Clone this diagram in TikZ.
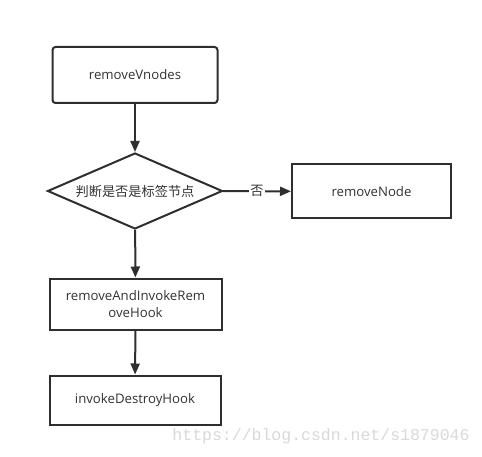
\documentclass[tikz,border=0pt]{standalone}
\usepackage{fontspec}
\setmainfont{Open Sans}
\newfontfamily\cjk{Noto Sans CJK SC}
\newfontfamily\wmfont{Liberation Mono}
\usepackage{tikz}
\usetikzlibrary{shapes.geometric,arrows.meta}

\definecolor{flowline}{HTML}{2E2E2E}
\definecolor{flowtext}{HTML}{333333}
\definecolor{wmgray}{HTML}{D9D9D9}

\tikzset{
  stepbox/.style={draw=flowline, line width=2pt, text=flowtext,
                  font=\fontsize{13.2}{17}\selectfont, inner sep=2pt, align=center},
  decide/.style={diamond, aspect=2.3, draw=flowline, line width=2pt, text=flowtext,
                 inner sep=0pt, minimum width=175pt, minimum height=76pt,
                 font=\cjk\fontsize{13.2}{15}\selectfont},
  flow/.style={draw=flowline, line width=2pt,
               -{Triangle[length=11pt,width=9pt]}}
}

\begin{document}
\begin{tikzpicture}[x=1pt,y=-1pt]
\fill[white] (0,0) rectangle (482,457);
\useasboundingbox (0,0) rectangle (482,457);

% nodes
\node[stepbox, rounded corners=3pt, minimum width=165pt, minimum height=56pt] (rv) at (135,75) {removeVnodes};
\node[decide] (dec) at (135,191) {判断是否是标签节点};
\node[stepbox, minimum width=159pt, minimum height=54pt] (rn) at (371.5,191.5) {removeNode};
\node[stepbox, minimum width=172pt, minimum height=51pt] (rai) at (135.5,304) {removeAndInvokeRem\\oveHook};
\node[stepbox, minimum width=171pt, minimum height=49pt] (idh) at (135,400) {invokeDestroyHook};

% connectors
\draw[flow] (rv) -- (dec);
\draw[flow] (dec) -- node[fill=white, inner sep=1.5pt, text=flowtext,
      font=\cjk\fontsize{13.2}{15}\selectfont] {否} (rn);
\draw[flow] (dec) -- (rai);
\draw[flow] (rai) -- (idh);

% watermark
\node[text=wmgray, font=\wmfont\fontsize{16.5}{18}\selectfont] (wm) at (321,436) {https://blog.csdn.net/s1879046};
\end{tikzpicture}
\end{document}
